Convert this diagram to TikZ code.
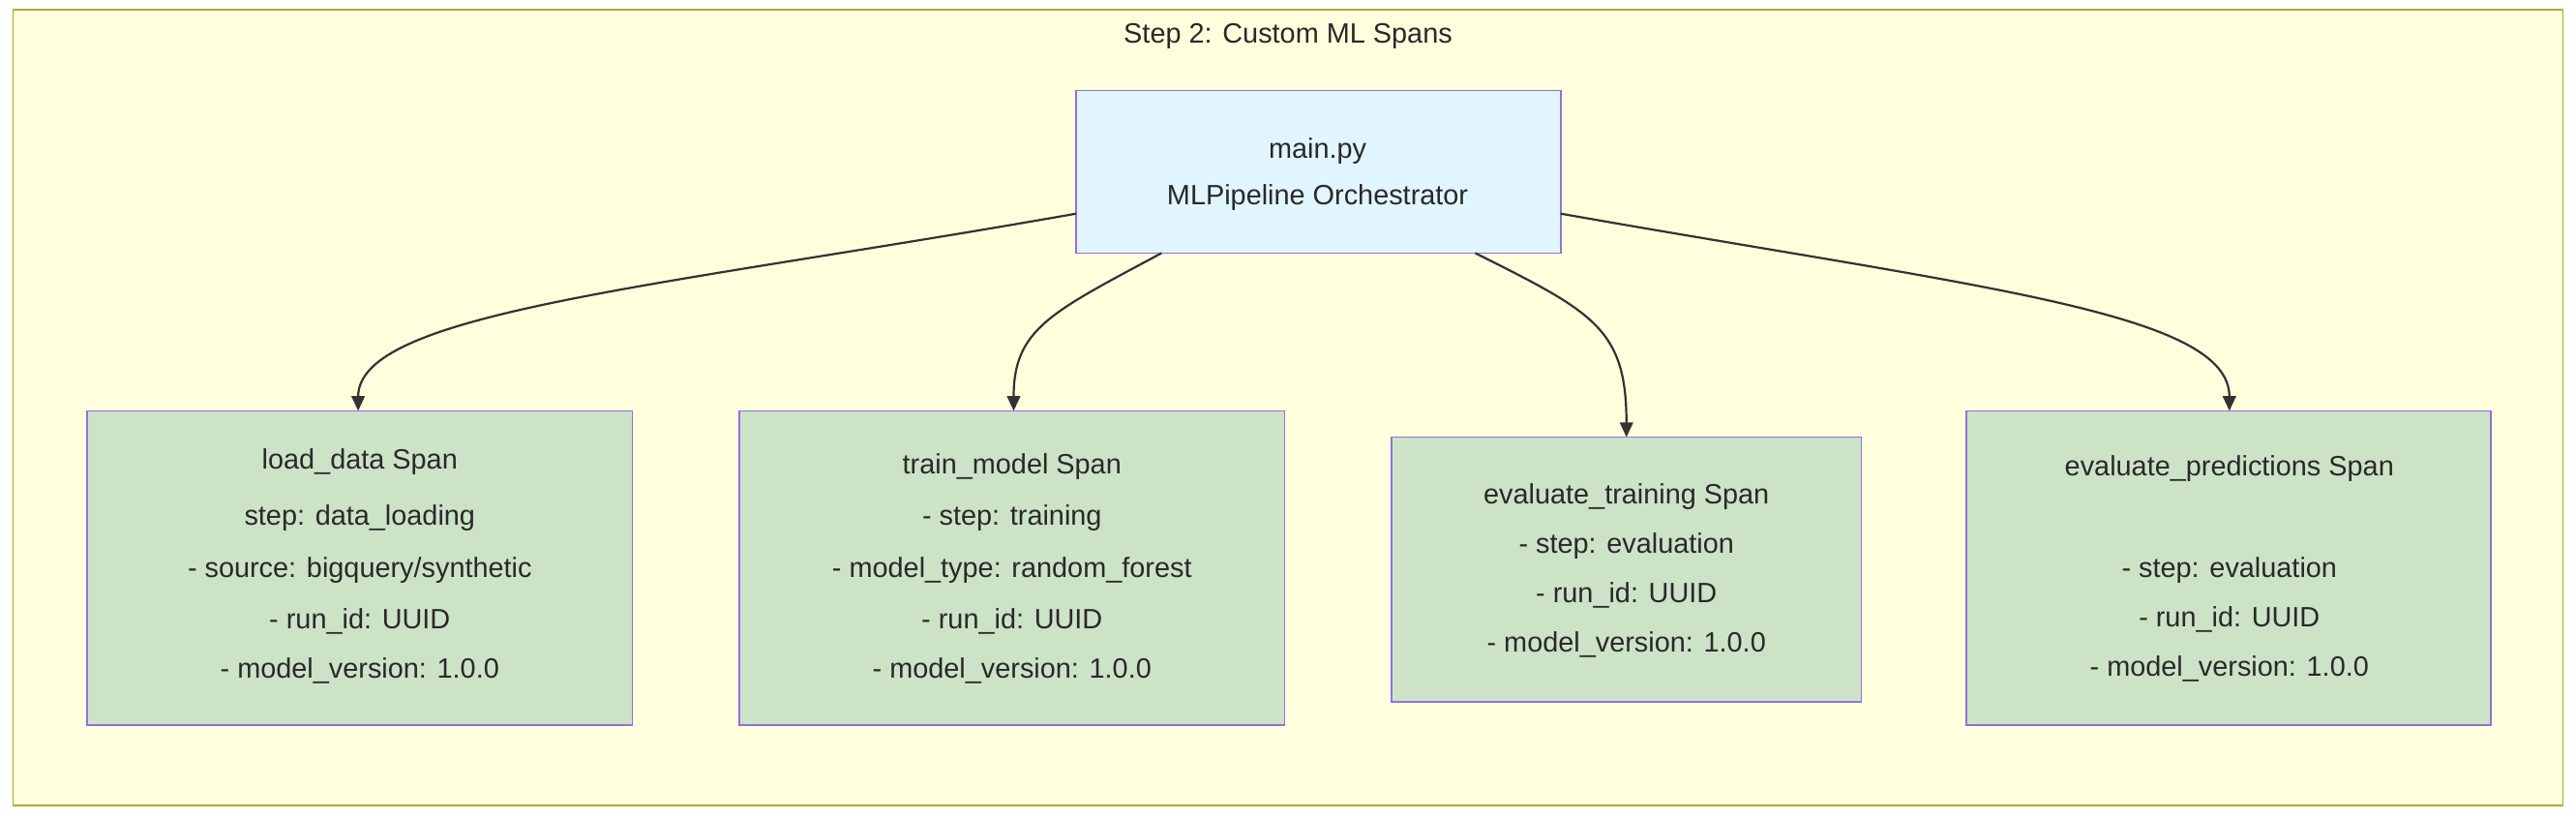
\documentclass[tikz,border=0pt]{standalone}
\usepackage{fontspec}
\setmainfont{Liberation Sans}
\usetikzlibrary{arrows.meta}
\definecolor{framefill}{HTML}{FFFFDE}
\definecolor{frameline}{HTML}{AAAA33}
\definecolor{boxline}{HTML}{9370DB}
\definecolor{mainfill}{HTML}{E1F5FE}
\definecolor{spanfill}{HTML}{CDE3C8}
\definecolor{linkcol}{HTML}{333333}
\tikzset{
    spanbox/.style={draw=boxline, fill=spanfill, line width=1pt},
    mainbox/.style={draw=boxline, fill=mainfill, line width=1pt},
    txt/.style={font=\fontsize{17}{20}\selectfont, text=linkcol!80!black},
    link/.style={draw=linkcol, line width=1.3pt, -{Triangle[length=9pt, width=8pt]}},
}
\begin{document}
\begin{tikzpicture}[x=1pt, y=-1pt]
    \useasboundingbox (0,0) rectangle (1568,498);
    \draw[fill=framefill, draw=frameline, line width=1pt] (8,6) rectangle (1560,490);
    \node[txt] (title) at (784,22) {Step 2: Custom ML Spans};
    % orchestrator
    \draw[mainbox] (655,55) rectangle (950,154);
    \coordinate (mainW) at (655,130);
    \coordinate (mainE) at (950,130);
    \coordinate (mainSW) at (707,154);
    \coordinate (mainSE) at (898,154);
    \node[txt] (main1) at (802,92) {main.py};
    \node[txt] (main2) at (802,120) {MLPipeline Orchestrator};
    % spans
    \draw[spanbox] (53,250) rectangle (385,441);
    \draw[spanbox] (450,250) rectangle (782,441);
    \draw[spanbox] (847,266) rectangle (1133,427);
    \draw[spanbox] (1197,250) rectangle (1516,441);
    \coordinate (loadN) at (218,250);
    \coordinate (trainN) at (617,250);
    \coordinate (evaltN) at (990,266);
    \coordinate (evalpN) at (1357,250);
    \begin{scope}
        \clip (54,251) rectangle (384,440);
        \node[txt] (load1) at (219,281) {load\_data Span};
        \node[txt] (load2) at (219,315) {step: data\_loading};
        \node[txt] (load3) at (219,347) {- source: bigquery/synthetic};
        \node[txt] (load4) at (219,378) {- run\_id: UUID};
        \node[txt] (load5) at (219,408) {- model\_version: 1.0.0};
    \end{scope}
    \begin{scope}
        \clip (451,251) rectangle (781,440);
        \node[txt] (train1) at (616,284) {train\_model Span};
        \node[txt] (train2) at (616,315) {- step: training};
        \node[txt] (train3) at (616,347) {- model\_type: random\_forest};
        \node[txt] (train4) at (616,378) {- run\_id: UUID};
        \node[txt] (train5) at (616,408) {- model\_version: 1.0.0};
    \end{scope}
    \node[txt] (evalt1) at (990,302) {evaluate\_training Span};
    \node[txt] (evalt2) at (990,332) {- step: evaluation};
    \node[txt] (evalt3) at (990,362) {- run\_id: UUID};
    \node[txt] (evalt4) at (990,392) {- model\_version: 1.0.0};
    \node[txt] (evalp1) at (1357,285) {evaluate\_predictions Span};
    \node[txt] (evalp2) at (1357,347) {- step: evaluation};
    \node[txt] (evalp3) at (1357,377) {- run\_id: UUID};
    \node[txt] (evalp4) at (1357,407) {- model\_version: 1.0.0};
    % links
    \draw[link] (mainW) .. controls (400,175) and (218,190) .. (loadN);
    \draw[link] (mainSW) .. controls (640,190) and (617,200) .. (trainN);
    \draw[link] (mainSE) .. controls (970,190) and (990,200) .. (evaltN);
    \draw[link] (mainE) .. controls (1205,175) and (1357,190) .. (evalpN);
\end{tikzpicture}
\end{document}
